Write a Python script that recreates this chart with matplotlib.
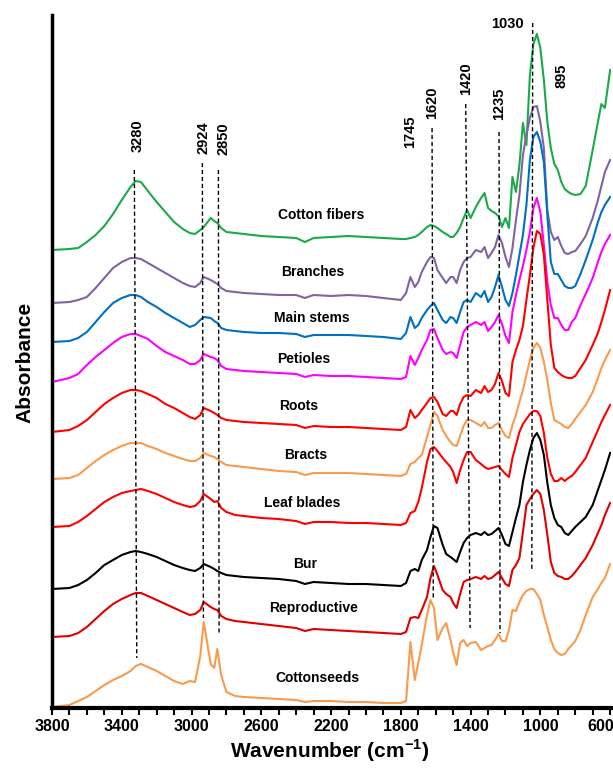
import matplotlib
matplotlib.use("Agg")
import matplotlib.pyplot as plt
from matplotlib.ticker import MultipleLocator, FixedLocator
from matplotlib.transforms import ScaledTranslation

plt.rcParams.update({
    'font.family': ['Liberation Sans', 'DejaVu Sans'],
    'font.weight': 'bold',
    'mathtext.fontset': 'custom',
    'mathtext.rm': 'Liberation Sans:bold',
    'mathtext.bf': 'Liberation Sans:bold',
})

# FTIR spectra, stacked (offset absorbance, a.u.)
wavenumber = [3800, 3700, 3650, 3600, 3550, 3500, 3450, 3400, 3350, 3320,
              3290, 3250, 3200, 3150, 3100, 3050, 3010, 2980, 2950, 2930,
              2890, 2870, 2852, 2830, 2800, 2750, 2700, 2600, 2500, 2400,
              2350, 2300, 2200, 2100, 2000, 1900, 1800,
              1770, 1745, 1720, 1700, 1680, 1650, 1630, 1610, 1590, 1560,
              1540, 1515, 1500, 1480, 1460, 1440, 1420, 1400, 1370, 1340,
              1320, 1300, 1280, 1260, 1240, 1220, 1200, 1180, 1160, 1140,
              1120, 1100, 1080, 1060, 1040, 1020, 1000, 980, 960, 940,
              920, 900, 880, 860, 840, 820, 800, 770, 740, 700,
              670, 650, 630, 600]

cotton_fibers = [458, 459, 460, 466, 473, 482, 494, 508, 521, 527,
                 526, 517, 506, 496, 486, 479, 475, 474, 478, 481,
                 490, 487, 485, 480, 476, 475, 474, 472, 471, 470,
                 466, 470, 471, 472, 471, 470, 469,
                 469, 470, 471, 473, 476, 481, 483, 482, 480, 476,
                 474, 471, 471, 475, 481, 490, 498, 490, 501, 510,
                 515, 500, 497, 495, 492, 481, 490, 480, 531, 516,
                 543, 585, 563, 633, 664, 674, 660, 628, 586, 560,
                 544, 538, 526, 519, 516, 514, 513, 514, 522, 558,
                 586, 604, 600, 638]
branches = [405, 406, 408, 411, 420, 430, 440, 446, 450, 450,
            449, 445, 440, 435, 430, 425, 422, 421, 425, 431,
            428, 426, 424, 420, 417, 416, 415, 414, 413, 413,
            410, 413, 412, 413, 412, 410, 408,
            415, 431, 421, 426, 436, 446, 451, 450, 438, 430,
            425, 431, 431, 425, 438, 446, 450, 451, 458, 456,
            461, 450, 455, 461, 473, 465, 451, 441, 460, 488,
            513, 553, 573, 590, 601, 602, 586, 560, 498, 476,
            468, 471, 462, 455, 454, 456, 457, 464, 472, 490,
            508, 522, 536, 548]
main_stems = [366, 367, 370, 376, 386, 396, 405, 410, 413, 413,
              411, 406, 401, 395, 390, 385, 381, 383, 388, 391,
              390, 387, 385, 380, 378, 377, 376, 375, 375, 374,
              371, 373, 373, 373, 372, 371, 369,
              375, 391, 380, 383, 390, 398, 402, 405, 398, 388,
              385, 391, 390, 385, 396, 406, 408, 406, 415, 411,
              417, 406, 411, 421, 433, 421, 408, 402, 415, 433,
              453, 473, 503, 548, 571, 576, 566, 546, 493, 446,
              434, 434, 428, 422, 420, 420, 422, 434, 448, 468,
              486, 496, 503, 511]
petioles = [326, 330, 334, 343, 351, 358, 365, 371, 374, 374,
            372, 369, 362, 356, 352, 348, 344, 344, 348, 354,
            351, 350, 348, 342, 339, 338, 337, 336, 335, 334,
            331, 333, 332, 332, 331, 330, 329,
            331, 352, 343, 350, 358, 368, 378, 379, 370, 358,
            354, 356, 355, 350, 363, 376, 381, 383, 386, 383,
            386, 377, 381, 386, 393, 384, 372, 365, 396, 413,
            428, 442, 458, 476, 500, 510, 496, 463, 426, 403,
            390, 390, 383, 378, 378, 386, 390, 403, 414, 430,
            446, 456, 464, 473]
roots = [276, 278, 282, 288, 296, 304, 310, 315, 318, 318,
         317, 314, 310, 304, 300, 295, 291, 289, 293, 300,
         297, 295, 293, 290, 288, 287, 286, 285, 284, 283,
         280, 282, 281, 281, 280, 279, 278,
         281, 298, 290, 293, 298, 305, 310, 311, 306, 294,
         292, 297, 297, 293, 304, 311, 313, 312, 318, 315,
         322, 316, 318, 324, 335, 327, 315, 312, 346, 358,
         368, 382, 408, 433, 460, 477, 474, 453, 408, 363,
         340, 336, 333, 331, 330, 330, 332, 340, 348, 363,
         375, 386, 398, 418]
bracts = [229, 230, 233, 240, 247, 253, 258, 262, 265, 265,
          265, 262, 259, 255, 252, 249, 247, 247, 250, 255,
          252, 251, 249, 246, 243, 242, 241, 239, 237, 236,
          233, 235, 235, 235, 234, 233, 232,
          234, 244, 246, 250, 253, 271, 283, 296, 292, 278,
          272, 266, 263, 262, 272, 282, 288, 288, 285, 282,
          286, 280, 280, 283, 285, 278, 272, 270, 283, 293,
          306, 318, 333, 348, 360, 365, 360, 346, 328, 305,
          288, 286, 284, 281, 280, 284, 289, 296, 303, 316,
          330, 340, 348, 358]
leaf_blades = [181, 182, 186, 192, 199, 206, 211, 215, 217, 218,
               219, 217, 214, 210, 206, 203, 201, 202, 207, 214,
               209, 206, 207, 200, 196, 193, 192, 190, 189, 187,
               184, 186, 186, 185, 185, 184, 183,
               185, 195, 197, 206, 220, 246, 259, 261, 257, 250,
               246, 241, 236, 225, 238, 248, 256, 256, 248, 244,
               241, 239, 240, 241, 242, 238, 234, 231, 250, 263,
               276, 284, 289, 294, 297, 297, 292, 275, 250, 234,
               227, 227, 230, 227, 230, 232, 236, 243, 250, 266,
               278, 286, 293, 303]
bur = [119, 120, 123, 128, 135, 143, 148, 153, 156, 157,
       156, 154, 151, 147, 143, 140, 138, 137, 140, 144,
       141, 139, 137, 135, 133, 132, 131, 130, 129, 127,
       124, 126, 125, 124, 124, 123, 122,
       125, 137, 139, 137, 148, 158, 171, 182, 180, 163,
       154, 151, 149, 146, 156, 165, 170, 173, 175, 173,
       176, 173, 174, 177, 180, 173, 164, 162, 176, 190,
       203, 226, 243, 258, 270, 275, 268, 253, 225, 203,
       190, 183, 181, 175, 173, 177, 181, 186, 191, 203,
       218, 228, 238, 255]
reproductive = [71, 72, 75, 81, 89, 97, 104, 109, 113, 115,
                115, 112, 108, 104, 100, 96, 93, 94, 98, 106,
                101, 99, 98, 92, 89, 87, 86, 84, 82, 80,
                77, 79, 78, 77, 76, 75, 74,
                76, 90, 91, 90, 98, 111, 130, 142, 133, 118,
                114, 111, 105, 100, 114, 126, 128, 129, 131, 129,
                132, 129, 130, 133, 136, 130, 124, 122, 138, 143,
                150, 176, 203, 209, 214, 218, 214, 198, 173, 146,
                135, 132, 131, 129, 129, 132, 136, 143, 150, 163,
                175, 183, 193, 205]
cottonseeds = [1, 3, 7, 11, 17, 23, 28, 32, 37, 42,
               44, 41, 37, 32, 27, 24, 27, 26, 52, 86,
               44, 40, 59, 33, 16, 12, 11, 10, 9, 8,
               6, 7, 7, 6, 6, 5, 5,
               7, 66, 28, 45, 63, 93, 108, 100, 68, 80,
               85, 68, 56, 43, 65, 68, 62, 65, 66, 58,
               60, 62, 63, 68, 74, 67, 67, 78, 98, 97,
               106, 113, 117, 119, 119, 114, 108, 93, 81, 68,
               59, 55, 53, 54, 59, 63, 67, 78, 93, 111,
               119, 125, 130, 144]

sample_names = ['Cotton fibers', 'Branches', 'Main stems', 'Petioles', 'Roots',
                'Bracts', 'Leaf blades', 'Bur', 'Reproductive', 'Cottonseeds']
spectra = [cotton_fibers, branches, main_stems, petioles, roots,
           bracts, leaf_blades, bur, reproductive, cottonseeds]

# marked bands: label, dashed line (x top, x bottom, y top, y bottom)
band_labels = ['3280', '2924', '2850', '1620', '1420', '1235', '1030']
band_x_top = [3328, 2938, 2846, 1621, 1428, 1237, 1044]
band_x_bot = [3314, 2932, 2842, 1614, 1403, 1231, 1049]
band_y_top = [538, 545, 538, 580, 604, 576, 685]
band_y_bot = [50, 90, 75, 110, 80, 75, 138]

x_ticks = [3800, 3400, 3000, 2600, 2200, 1800, 1400, 1000, 600]

colors = ['#1aaa4a', '#8064a2', '#0070c0', '#ff00ff', '#ff0000',
          '#f89b4c', '#ff0000', '#000000', '#e00000', '#f89b4c']
name_pos = [(2258, 493), (2303, 436), (2311, 390), (2355, 349), (2384, 302),
            (2344, 253), (2364, 205), (2349, 144), (2299, 100), (2280, 30)]
# rotated band labels: (text, x, bottom y)
vlabel_pos = [('3280', 3307, 556), ('2924', 2934, 554), ('2850', 2814, 553),
              ('1745', 1747, 560), ('1620', 1621, 589), ('1420', 1426, 613),
              ('1235', 1237, 588), ('895', 876, 620)]

fig = plt.figure(figsize=(6.13, 7.68), dpi=100)
ax = fig.add_axes([52 / 613, 60 / 768, 559 / 613, 693 / 768])

for vals, c in zip(spectra, colors):
    ax.plot(wavenumber, vals, color=c, lw=1.5, solid_joinstyle='round')

for name, (x, y) in zip(sample_names, name_pos):
    ax.text(x, y, name, ha='center', va='center', fontsize=10, fontweight='bold')

for xt, xb, yt, yb in zip(band_x_top, band_x_bot, band_y_top, band_y_bot):
    ax.plot([xt, xb], [yt, yb], color='black', lw=1.0, dashes=(3, 2))

for txt, x, y in vlabel_pos:
    ax.text(x, y, txt, rotation=90, ha='center', va='bottom',
            fontsize=10.5, fontweight='bold')
ax.text(1188, 684, band_labels[-1], ha='center', va='center',
        fontsize=10.5, fontweight='bold')

ax.set_xlim(3800, 595)
ax.set_ylim(0, 693)
ax.set_yticks([])
ax.xaxis.set_major_locator(FixedLocator(x_ticks))
ax.xaxis.set_minor_locator(MultipleLocator(100))
ax.tick_params(axis='x', which='both', direction='out', length=5, width=1.5,
               labelsize=11.5, pad=3)
ax.set_xticklabels([str(t) for t in x_ticks], fontweight='bold')

for side in ['top', 'right']:
    ax.spines[side].set_visible(False)
ax.spines['left'].set_linewidth(2.5)
ax.spines['bottom'].set_linewidth(3)

# last label sits against the right edge
last = ax.get_xticklabels()[-1]
last.set_transform(last.get_transform()
                   + ScaledTranslation(-9 / 100, 0, fig.dpi_scale_trans))

fig.text(330 / 613, 1 - 751 / 768, r'Wavenumber (cm$^{-1}$)', ha='center', va='center',
         fontsize=15, fontweight='bold')
fig.text(25 / 613, 1 - 362 / 768, 'Absorbance', rotation=90, ha='center', va='center',
         fontsize=15, fontweight='bold')

fig.savefig('out.png', dpi=100)
